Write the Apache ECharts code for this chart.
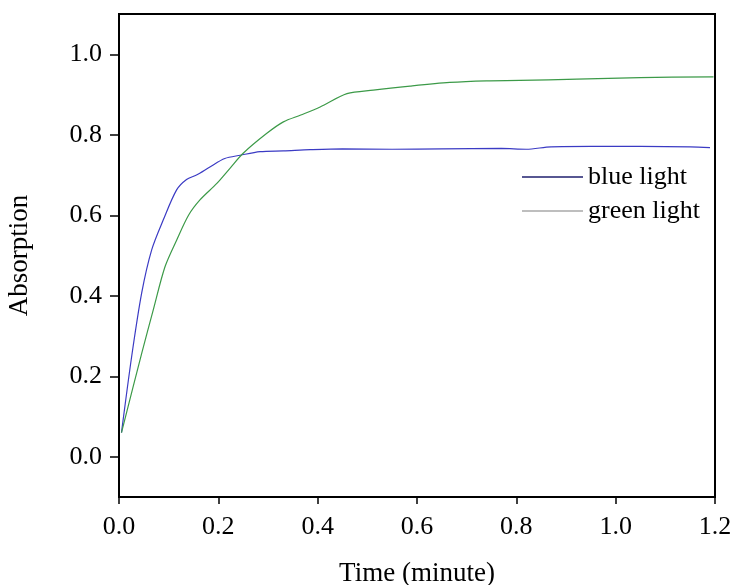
<!DOCTYPE html>
<html>
<head>
<meta charset="utf-8">
<script src="https://cdn.jsdelivr.net/npm/echarts@6/dist/echarts.min.js"></script>
<style>
  html, body { margin: 0; padding: 0; background: #fff; }
  #chart { width: 734px; height: 585px; }
</style>
</head>
<body>
<div id="chart"></div>
<script>
// Absorption kinetics under blue and green illumination
const blueTime = [0.005, 0.0255, 0.0457, 0.0658, 0.089, 0.116, 0.136, 0.156, 0.183, 0.213, 0.244, 0.284, 0.331, 0.385, 0.45, 0.55, 0.65, 0.77, 0.82, 0.87, 0.95, 1.05, 1.15, 1.19];
const blueAbs  = [0.06, 0.249, 0.407, 0.514, 0.588, 0.663, 0.689, 0.700, 0.720, 0.741, 0.749, 0.758, 0.760, 0.763, 0.765, 0.764, 0.765, 0.766, 0.764, 0.770, 0.771, 0.771, 0.770, 0.768];

const greenTime = [0.005, 0.0457, 0.069, 0.0926, 0.116, 0.140, 0.163, 0.197, 0.223, 0.250, 0.297, 0.331, 0.366, 0.405, 0.459, 0.512, 0.586, 0.666, 0.740, 0.807, 0.922, 1.049, 1.197];
const greenAbs  = [0.06, 0.257, 0.365, 0.472, 0.538, 0.600, 0.638, 0.679, 0.716, 0.754, 0.803, 0.832, 0.849, 0.869, 0.902, 0.911, 0.921, 0.930, 0.934, 0.935, 0.938, 0.942, 0.944];

const yTicks = [0.0, 0.2, 0.4, 0.6, 0.8, 1.0];
const seriesNames = ['blue light', 'green light'];

const pair = (t, a) => t.map((v, i) => [v, a[i]]);
const FONT = 'Liberation Serif';

const chart = echarts.init(document.getElementById('chart'), null, { renderer: 'canvas' });
chart.setOption({
  backgroundColor: '#ffffff',
  animation: false,
  grid: {
    left: 119, right: 19, top: 14, bottom: 88,
    containLabel: false, outerBoundsMode: 'none',
    show: true, borderColor: '#000', borderWidth: 2, backgroundColor: 'transparent'
  },
  legend: {
    orient: 'vertical',
    left: 517, top: 159,
    icon: 'rect',
    itemWidth: 61, itemHeight: 1.5, itemGap: 8,
    textStyle: { fontFamily: FONT, fontSize: 26, color: '#000' },
    data: [
      { name: seriesNames[0], itemStyle: { color: '#1f1f6e' } },
      { name: seriesNames[1], itemStyle: { color: '#a8a8a8' } }
    ]
  },
  xAxis: {
    type: 'value', min: 0, max: 1.2, interval: 0.2,
    name: 'Time (minute)', nameLocation: 'middle', nameGap: 63,
    nameTextStyle: { fontFamily: FONT, fontSize: 27, color: '#000' },
    axisLine: { show: true, onZero: false, lineStyle: { color: '#000', width: 2 } },
    axisTick: { show: true, inside: false, length: 7, lineStyle: { color: '#000', width: 1.5 } },
    axisLabel: { fontFamily: FONT, fontSize: 26, color: '#000', margin: 17, formatter: v => v.toFixed(1) },
    splitLine: { show: false }
  },
  yAxis: {
    type: 'value', min: -0.1, max: 1.1,
    name: 'Absorption', nameLocation: 'middle', nameGap: 86,
    nameTextStyle: { fontFamily: FONT, fontSize: 27, color: '#000' },
    axisLine: { show: true, onZero: false, lineStyle: { color: '#000', width: 2 } },
    axisTick: { show: true, inside: false, length: 9, customValues: yTicks, lineStyle: { color: '#000', width: 1.5 } },
    axisLabel: { fontFamily: FONT, fontSize: 26, color: '#000', margin: 17, customValues: yTicks, formatter: v => v.toFixed(1) },
    splitLine: { show: false }
  },
  series: [
    {
      name: seriesNames[0], type: 'line', data: pair(blueTime, blueAbs),
      showSymbol: false, symbol: 'none', smooth: 0.3,
      lineStyle: { color: '#3b3bc4', width: 1.2 }, itemStyle: { color: '#3b3bc4' }
    },
    {
      name: seriesNames[1], type: 'line', data: pair(greenTime, greenAbs),
      showSymbol: false, symbol: 'none', smooth: 0.3,
      lineStyle: { color: '#3c9a48', width: 1.2 }, itemStyle: { color: '#3c9a48' }
    }
  ]
});
</script>
</body>
</html>
